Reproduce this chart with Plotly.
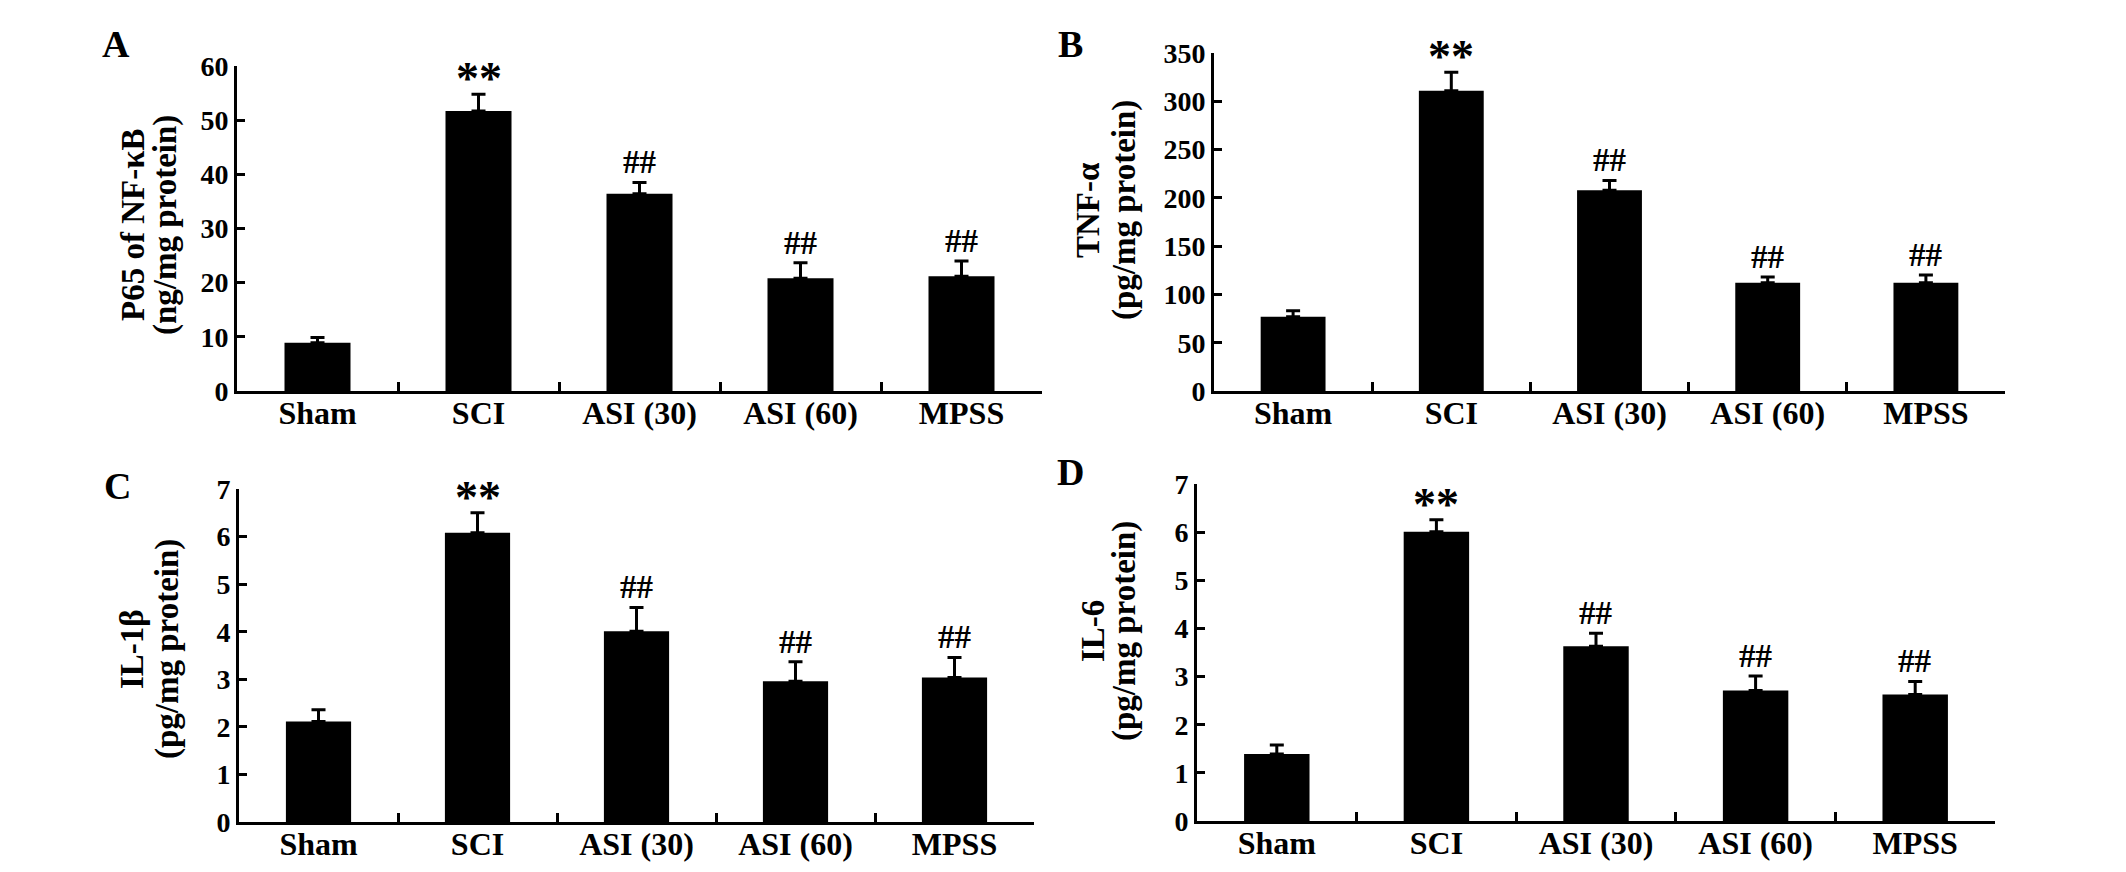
import plotly.graph_objects as go
from plotly.subplots import make_subplots

# groupes
groups = ["Sham", "SCI", "ASI (30)", "ASI (60)", "MPSS"]

# valeurs (moyenne + erreur)
p65_mean = [8.9, 51.7, 36.4, 20.8, 21.2]
p65_err = [1.0, 3.1, 2.1, 2.9, 2.8]

tnf_mean = [77, 311, 208, 112, 112]
tnf_err = [6, 19, 10, 6, 8]

il1b_mean = [2.11, 6.08, 4.01, 2.96, 3.04]
il1b_err = [0.25, 0.42, 0.50, 0.41, 0.42]

il6_mean = [1.39, 6.01, 3.63, 2.71, 2.63]
il6_err = [0.19, 0.25, 0.27, 0.30, 0.27]

# significativité
marks = ["", "**", "##", "##", "##"]

panels = [
    dict(letter="A", mean=p65_mean, err=p65_err, ymax=60, dtick=10,
         title=["P65 of NF-κB", "(ng/mg protein)"]),
    dict(letter="B", mean=tnf_mean, err=tnf_err, ymax=350, dtick=50,
         title=["TNF-α", "(pg/mg protein)"]),
    dict(letter="C", mean=il1b_mean, err=il1b_err, ymax=7, dtick=1,
         title=["IL-1β", "(pg/mg protein)"]),
    dict(letter="D", mean=il6_mean, err=il6_err, ymax=7, dtick=1,
         title=["IL-6", "(pg/mg protein)"]),
]

W, H = 2126, 872
OFF = 8  # marge du <body> de la page
FONT = "Liberation Serif"


def fx(px):
    return (px - OFF) / W


def fy(px):
    return 1 - (px - OFF) / H


# cadres des axes en pixels (gauche, droite, haut, bas)
boxes = [(237, 1042, 66, 391), (1214, 2005, 53, 391),
         (239, 1034, 489, 822), (1197, 1995, 484, 821)]
# position des titres d'axe (x ligne 1, x ligne 2, y centre) et des lettres
title_pos = [(133, 165, 225), (1088, 1124, 210), (132, 167, 649), (1093, 1124, 631)]
letter_pos = [(116, 44), (1070, 44), (117, 486), (1070, 472)]

fig = make_subplots(rows=2, cols=2)

annotations = []
for i, p in enumerate(panels):
    row, col = i // 2 + 1, i % 2 + 1
    fig.add_trace(go.Bar(
        x=groups, y=p["mean"], width=0.41,
        marker=dict(color="black", line=dict(width=0)),
        error_y=dict(type="data", symmetric=False, array=p["err"],
                     arrayminus=[0] * len(groups), color="black",
                     thickness=3, width=7),
        showlegend=False,
    ), row=row, col=col)

    l, r, t, b = boxes[i]
    sfx = "" if i == 0 else str(i + 1)
    fig.update_layout({
        "xaxis" + sfx: dict(domain=[fx(l), fx(r)]),
        "yaxis" + sfx: dict(domain=[fy(b), fy(t)]),
    })
    fig.update_xaxes(type="category", range=[-0.5, 4.5], tickson="boundaries",
                     ticks="inside", ticklen=9, tickwidth=3, tickcolor="black",
                     showline=True, linewidth=3, linecolor="black", showgrid=False,
                     automargin=False, ticklabelstandoff=-8,
                     tickfont=dict(family=FONT, size=32, color="black", weight="bold"),
                     row=row, col=col)
    fig.update_yaxes(range=[0, p["ymax"]], dtick=p["dtick"], ticks="inside",
                     ticklen=8, tickwidth=3, tickcolor="black", showline=True,
                     linewidth=3, linecolor="black", showgrid=False, zeroline=False,
                     automargin=False,
                     tickfont=dict(family=FONT, size=28, color="black", weight="bold"),
                     row=row, col=col)

    xr = "x" + sfx
    yr = "y" + sfx
    for g, m, e, s in zip(groups, p["mean"], p["err"], marks):
        if not s:
            continue
        annotations.append(dict(
            x=g, y=m + e, xref=xr, yref=yr, text=s, showarrow=False,
            yanchor="bottom", yshift=-12 if s == "**" else 0,
            font=dict(family=FONT, size=46 if s == "**" else 33,
                      color="black", weight="bold")))

    x1, x2, yc = title_pos[i]
    for xx, txt in zip((x1, x2), p["title"]):
        annotations.append(dict(
            x=fx(xx), y=fy(yc), xref="paper", yref="paper", text=txt,
            textangle=-90, showarrow=False, xanchor="center", yanchor="middle",
            font=dict(family=FONT, size=33, color="black", weight="bold")))

    lx, ly = letter_pos[i]
    annotations.append(dict(
        x=fx(lx), y=fy(ly), xref="paper", yref="paper", text=p["letter"],
        showarrow=False, xanchor="center", yanchor="middle",
        font=dict(family=FONT, size=38, color="black", weight="bold")))

fig.update_layout(
    width=W, height=H,
    margin=dict(l=0, r=0, t=0, b=0, autoexpand=False),
    plot_bgcolor="white", paper_bgcolor="white",
    annotations=annotations,
)

fig.write_html("out.html")
